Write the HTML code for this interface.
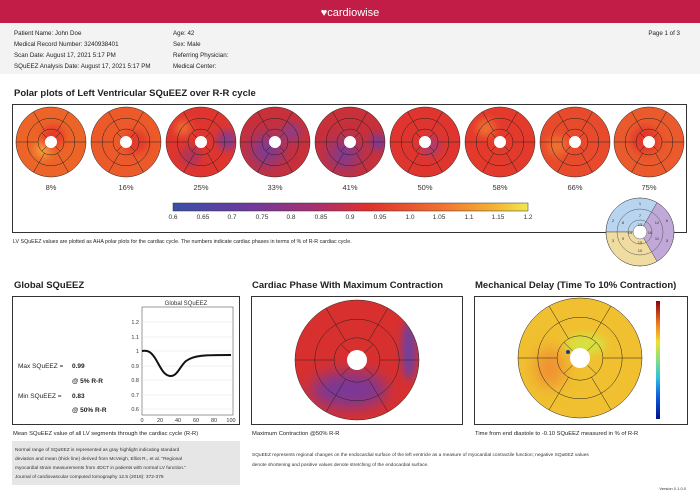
<!DOCTYPE html>
<html><head><style>
body{margin:0;width:700px;height:494px;overflow:hidden;background:#fff;font-family:"Liberation Sans",sans-serif}
.g *{vector-effect:non-scaling-stroke}
</style></head><body>
<svg width="700" height="494" viewBox="0 0 700 494" font-family="Liberation Sans, sans-serif">
<defs>
<clipPath id="c33"><circle r="35"/></clipPath>
<clipPath id="c62"><ellipse rx="62" ry="60"/></clipPath>
<filter id="bl" x="-50%" y="-50%" width="200%" height="200%"><feGaussianBlur stdDeviation="4"/></filter>
<filter id="bl2" x="-50%" y="-50%" width="200%" height="200%"><feGaussianBlur stdDeviation="8"/></filter>
<linearGradient id="cb" x1="0" x2="1">
<stop offset="0" stop-color="#3a4fa8"/><stop offset="0.2" stop-color="#6a3aa0"/><stop offset="0.4" stop-color="#a83070"/><stop offset="0.55" stop-color="#e0302e"/><stop offset="0.75" stop-color="#f07030"/><stop offset="0.9" stop-color="#f5b030"/><stop offset="1" stop-color="#f0e850"/></linearGradient>
<linearGradient id="jet" x1="0" y1="1" x2="0" y2="0">
<stop offset="0" stop-color="#00108a"/><stop offset="0.2" stop-color="#1060e0"/><stop offset="0.35" stop-color="#30c0e0"/><stop offset="0.5" stop-color="#80e080"/><stop offset="0.65" stop-color="#f0e030"/><stop offset="0.8" stop-color="#f08020"/><stop offset="1" stop-color="#900010"/></linearGradient>
<g id="grid" class="g" fill="none" stroke="#222" stroke-width="0.5">
<circle r="1" fill="none"/><circle r="0.68" fill="none"/><circle r="0.37" fill="none"/>
<path fill="none" d="M-1 0H-0.37M0.37 0H1M-0.5 -0.866L-0.185 -0.32M0.5 -0.866L0.185 -0.32M-0.5 0.866L-0.185 0.32M0.5 0.866L0.185 0.32M-0.262 -0.262L-0.12 -0.12M0.262 -0.262L0.12 -0.12M-0.262 0.262L-0.12 0.12M0.262 0.262L0.12 0.12" />
</g>
</defs>
<rect width="700" height="23" fill="#c21d47"/>
<text x="350" y="16" fill="#fff" font-size="11" text-anchor="middle">♥cardiowise</text>
<rect y="23" width="700" height="51" fill="#f3f3f3"/>
<g font-size="6.2" fill="#222">
<text x="14" y="35">Patient Name: John Doe</text><text x="14" y="46">Medical Record Number: 3240938401</text><text x="14" y="57">Scan Date: August 17, 2021 5:17 PM</text><text x="14" y="68">SQuEEZ Analysis Date: August 17, 2021 5:17 PM</text>
<text x="173" y="35">Age: 42</text><text x="173" y="46">Sex: Male</text><text x="173" y="57">Referring Physician:</text><text x="173" y="68">Medical Center:</text>
<text x="680" y="35" text-anchor="end">Page 1 of 3</text>
</g>
<text x="14" y="96" font-size="9.5" font-weight="bold" fill="#222">Polar plots of Left Ventricular SQuEEZ over R-R cycle</text>
<rect x="12.5" y="104.5" width="674" height="128" fill="none" stroke="#333" stroke-width="1"/>
<g>
<g transform="translate(51,142)"><g clip-path="url(#c33)"><circle r="35" fill="#ec6428"/><circle cx="-8" cy="8" r="8" fill="#f5a03a" filter="url(#bl)"/><circle cx="2" cy="-6" r="11" fill="#e63a2a" filter="url(#bl)"/></g><circle r="6" fill="#fff"/><use href="#grid" transform="scale(35)"/></g>
<g transform="translate(126,142)"><g clip-path="url(#c33)"><circle r="35" fill="#ec5a2a"/><circle cx="10" cy="0" r="12" fill="#e43a2c" filter="url(#bl)"/></g><circle r="6" fill="#fff"/><use href="#grid" transform="scale(35)"/></g>
<g transform="translate(201,142)"><g clip-path="url(#c33)"><circle r="35" fill="#e0352e"/><circle cx="26" cy="-2" r="10" fill="#8a3a8a" filter="url(#bl)"/><circle cx="-10" cy="14" r="10" fill="#b0345a" filter="url(#bl)"/><circle cx="-18" cy="-14" r="8" fill="#ee6a30" filter="url(#bl)"/></g><circle r="6" fill="#fff"/><use href="#grid" transform="scale(35)"/></g>
<g transform="translate(275,142)"><g clip-path="url(#c33)"><circle r="35" fill="#c8303a"/><circle cx="-8" cy="8" r="16" fill="#7a3a98" filter="url(#bl2)"/><circle cx="16" cy="-10" r="10" fill="#953a80" filter="url(#bl)"/></g><circle r="6" fill="#fff"/><use href="#grid" transform="scale(35)"/></g>
<g transform="translate(350,142)"><g clip-path="url(#c33)"><circle r="35" fill="#c8303a"/><circle cx="-6" cy="12" r="15" fill="#7a3a98" filter="url(#bl2)"/><circle cx="28" cy="0" r="8" fill="#7a3a98" filter="url(#bl)"/></g><circle r="6" fill="#fff"/><use href="#grid" transform="scale(35)"/></g>
<g transform="translate(425,142)"><g clip-path="url(#c33)"><circle r="35" fill="#e0352e"/><circle cx="6" cy="4" r="10" fill="#b03a6a" filter="url(#bl)"/></g><circle r="6" fill="#fff"/><use href="#grid" transform="scale(35)"/></g>
<g transform="translate(500,142)"><g clip-path="url(#c33)"><circle r="35" fill="#e43a2c"/><circle cx="-14" cy="-14" r="9" fill="#ee7030" filter="url(#bl)"/></g><circle r="6" fill="#fff"/><use href="#grid" transform="scale(35)"/></g>
<g transform="translate(575,142)"><g clip-path="url(#c33)"><circle r="35" fill="#e84a2c"/><circle cx="-18" cy="4" r="10" fill="#ee7030" filter="url(#bl)"/></g><circle r="6" fill="#fff"/><use href="#grid" transform="scale(35)"/></g>
<g transform="translate(649,142)"><g clip-path="url(#c33)"><circle r="35" fill="#ea5a2c"/><circle cx="-4" cy="-2" r="14" fill="#e4382c" filter="url(#bl)"/></g><circle r="6" fill="#fff"/><use href="#grid" transform="scale(35)"/></g>
</g>
<g font-size="7.5" fill="#333" text-anchor="middle">
<text x="51" y="190">8%</text><text x="126" y="190">16%</text><text x="201" y="190">25%</text><text x="275" y="190">33%</text><text x="350" y="190">41%</text><text x="425" y="190">50%</text><text x="500" y="190">58%</text><text x="575" y="190">66%</text><text x="649" y="190">75%</text>
</g>
<rect x="173" y="203" width="355" height="8" fill="url(#cb)" stroke="#333" stroke-width="0.5"/>
<g font-size="6.5" fill="#333" text-anchor="middle">
<text x="173" y="219">0.6</text><text x="203" y="219">0.65</text><text x="232" y="219">0.7</text><text x="262" y="219">0.75</text><text x="291" y="219">0.8</text><text x="321" y="219">0.85</text><text x="350" y="219">0.9</text><text x="380" y="219">0.95</text><text x="410" y="219">1.0</text><text x="439" y="219">1.05</text><text x="469" y="219">1.1</text><text x="498" y="219">1.15</text><text x="528" y="219">1.2</text>
</g>
<text x="13" y="243" font-size="5.3" fill="#222">LV SQuEEZ values are plotted as AHA polar plots for the cardiac cycle. The numbers indicate cardiac phases in terms of % of R-R cardiac cycle.</text>
<g transform="translate(640,232)" stroke="#555" stroke-width="0.5">
<path d="M0 0L-34 0A34 34 0 0 1 17 -29.4Z" fill="#b8d4ee"/>
<path d="M0 0L17 -29.4A34 34 0 0 1 17 29.4Z" fill="#c0a8d8"/>
<path d="M0 0L17 29.4A34 34 0 0 1 -34 0Z" fill="#f0dca0"/>
<g fill="none"><circle r="34"/><circle r="23"/><circle r="12"/></g>
<circle r="7" fill="#fff"/>
<g font-size="4" fill="#333" stroke="none" text-anchor="middle"><text x="0" y="-27">1</text><text x="0" y="-15">7</text><text x="0" y="-6">13</text><text x="17" y="-8">12</text><text x="27" y="-10">6</text><text x="10" y="2">16</text><text x="-10" y="2">14</text><text x="0" y="12">15</text><text x="0" y="20">10</text><text x="-17" y="8">9</text><text x="-27" y="10">3</text><text x="-27" y="-10">2</text><text x="-17" y="-8">8</text><text x="17" y="8">11</text><text x="27" y="10">5</text></g>
</g>
<g font-size="9.5" font-weight="bold" fill="#222">
<text x="14" y="288">Global SQuEEZ</text><text x="252" y="288">Cardiac Phase With Maximum Contraction</text><text x="475" y="288">Mechanical Delay (Time To 10% Contraction)</text>
</g>
<g fill="none" stroke="#333" stroke-width="1">
<rect x="12.5" y="296.5" width="227" height="128"/><rect x="251.5" y="296.5" width="211" height="128"/><rect x="474.5" y="296.5" width="213" height="128"/>
</g>
<text x="186" y="305" font-size="6" fill="#333" text-anchor="middle">Global  SQuEEZ</text>
<rect x="142" y="307" width="91" height="108" fill="none" stroke="#555" stroke-width="0.6"/>
<g stroke="#ddd" stroke-width="0.4">
<path d="M142 322H233M142 337H233M142 351H233M142 366H233M142 380H233M142 395H233M142 409H233"/>
</g>
<g font-size="5.5" fill="#333" text-anchor="end">
<text x="139" y="324">1.2</text><text x="139" y="339">1.1</text><text x="139" y="353">1</text><text x="139" y="368">0.9</text><text x="139" y="382">0.8</text><text x="139" y="397">0.7</text><text x="139" y="411">0.6</text>
</g>
<g font-size="5.5" fill="#333" text-anchor="middle">
<text x="142" y="422">0</text><text x="160" y="422">20</text><text x="178" y="422">40</text><text x="196" y="422">60</text><text x="214" y="422">80</text><text x="231" y="422">100</text>
</g>
<path d="M142 351 C148 350 151 352 155 358 C160 366 163 375 170 376 C177 377 180 366 186 361 C194 355 205 355 231 355" fill="none" stroke="#111" stroke-width="2"/>
<g font-size="6.5" fill="#222">
<text x="18" y="368">Max SQuEEZ =</text><text x="72" y="368" font-weight="bold">0.99</text>
<text x="72" y="383" font-weight="bold">@ 5% R-R</text>
<text x="18" y="398">Min SQuEEZ =</text><text x="72" y="398" font-weight="bold">0.83</text>
<text x="72" y="412" font-weight="bold">@ 50% R-R</text>
</g>
<g transform="translate(357,360)"><g clip-path="url(#c62)"><ellipse rx="62" ry="60" fill="#d8302e"/>
<ellipse cx="-8" cy="30" rx="38" ry="18" fill="#7a3898" filter="url(#bl2)"/>
<ellipse cx="52" cy="-10" rx="7" ry="30" fill="#7040a0" filter="url(#bl)"/></g>
<circle r="10" fill="#fff"/><use href="#grid" transform="scale(62,60)"/></g>
<g transform="translate(580,358)"><g clip-path="url(#c62)"><ellipse rx="62" ry="60" fill="#f0c030"/>
<ellipse cx="-30" cy="10" rx="15" ry="20" fill="#f09030" filter="url(#bl2)"/>
<ellipse cx="6" cy="-14" rx="20" ry="10" fill="#d8e040" filter="url(#bl)"/></g>
<circle cx="-12" cy="-6" r="2" fill="#104080"/>
<circle r="10" fill="#fff"/><use href="#grid" transform="scale(62,60)"/></g>
<rect x="656" y="301" width="4" height="118" fill="url(#jet)"/>
<g font-size="5.8" fill="#222">
<text x="13" y="435">Mean SQuEEZ value of all LV segments through the cardiac cycle (R-R)</text>
<text x="252" y="435">Maximum Contraction @50% R-R</text>
<text x="475" y="435">Time from end diastole to -0.10 SQuEEZ measured in % of R-R</text>
</g>
<rect x="12" y="441" width="228" height="44" fill="#e6e6e6"/>
<g font-size="4.8" fill="#333">
<text x="15" y="451">Normal range of SQuEEZ is represented as gray highlight indicating standard</text>
<text x="15" y="460">deviation and mean (thick line) derived from McVeigh, Elliot R., et al. "Regional</text>
<text x="15" y="469">myocardial strain measurements from 4DCT in patients with normal LV function."</text>
<text x="15" y="478">Journal of cardiovascular computed tomography 12.5 (2018): 372-378</text>
<text x="252" y="456">SQuEEZ represents regional changes on the endocardial surface of the left ventricle as a measure of myocardial contractile function; negative SQuEEZ values</text>
<text x="252" y="466">denote shortening and positive values denote stretching of the endocardial surface.</text>
<text x="686" y="490" text-anchor="end" font-size="4">Version 0.1.0.0</text>
</g>
</svg>
</body></html>
